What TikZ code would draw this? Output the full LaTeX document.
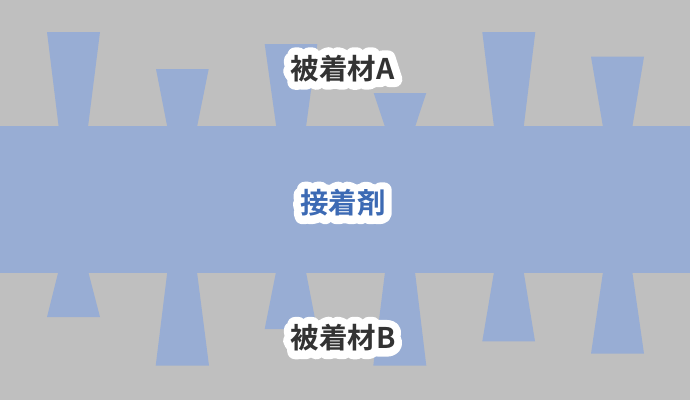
\documentclass[tikz,border=0pt]{standalone}
\usepackage{fontspec}
\newfontfamily\cjk{Noto Sans CJK JP}[BoldFont={Noto Sans CJK JP Bold}]
\newfontfamily\cjkhalo{Noto Sans CJK JP Bold}[FakeBold=55]
\definecolor{bg}{HTML}{BFBFBF}
\definecolor{glue}{HTML}{98ADD4}
\definecolor{dark}{HTML}{333333}
\definecolor{gluetext}{HTML}{3C6AB4}
\tikzset{
  part/.style={fill=glue, draw=none},
  lab/.style={font=\fontsize{28.5}{28.5}\selectfont, inner sep=0pt, text=dark},
}
\newcommand\halo[1]{\special{pdf:code 1 j 1 J}\makebox[0pt][l]{\cjkhalo\color{white}#1}{\cjk\bfseries #1}}
\begin{document}
\begin{tikzpicture}[x=1pt,y=-1pt]
\fill[bg] (0,0) rectangle (690,400);
\useasboundingbox (0,0) rectangle (690,400);
% adhesive band
\fill[part] (0,126) rectangle (690,272.5);
% top anchors (adherend A)
\fill[part] (47,32) -- (100,32) -- (88,127) -- (58.7,127) -- cycle;
\fill[part] (156,69) -- (208.7,69) -- (197,127) -- (167.3,127) -- cycle;
\fill[part] (264.7,44) -- (317.3,44) -- (306,127) -- (276.3,127) -- cycle;
\fill[part] (373.7,93) -- (426.3,93) -- (415,127) -- (385,127) -- cycle;
\fill[part] (482.3,32) -- (535.3,32) -- (523.7,127) -- (494,127) -- cycle;
\fill[part] (591,56.7) -- (644,56.7) -- (632.3,127) -- (603,127) -- cycle;
% bottom anchors (adherend B)
\fill[part] (58.3,272) -- (88.3,272) -- (100,317) -- (47,317) -- cycle;
\fill[part] (167.3,272) -- (197,272) -- (209,365.7) -- (155.7,365.7) -- cycle;
\fill[part] (276,272) -- (306,272) -- (317,329) -- (264.7,329) -- cycle;
\fill[part] (385,272) -- (415,272) -- (426.3,365.7) -- (373.3,365.7) -- cycle;
\fill[part] (494,272) -- (523.7,272) -- (535,341.3) -- (482.3,341.3) -- cycle;
\fill[part] (603,272) -- (632.3,272) -- (644,353.7) -- (591,353.7) -- cycle;
% labels
\node[lab] (la) at (342.5,68.5) {\halo{被着材A}};
\node[lab, text=gluetext] (lg) at (343,203) {\halo{接着剤}};
\node[lab] (lb) at (343,338) {\halo{被着材B}};
\end{tikzpicture}
\end{document}
